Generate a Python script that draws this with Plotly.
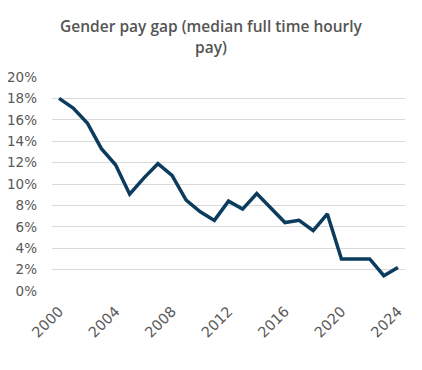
import plotly.graph_objects as go

years = list(range(2000, 2025))
gap_pct = [18.0, 17.1, 15.7, 13.3, 11.8, 9.05, 10.55, 11.9, 10.8, 8.5, 7.4, 6.6,
           8.4, 7.65, 9.1, 7.7, 6.4, 6.6, 5.65, 7.2, 3.0, 3.0, 3.0, 1.43, 2.2]
y_ticks = list(range(0, 21, 2))
y_tick_labels = [f"{v}%" for v in y_ticks]
x_ticks = list(range(2000, 2025, 4))
title_text = "Gender pay gap (median full time hourly<br>pay)"

fig = go.Figure()
fig.add_trace(go.Scatter(
    x=years, y=gap_pct, mode="lines",
    line=dict(color="#0b3c5d", width=3.5),
    hoverinfo="skip",
))

y_tick_font = dict(family="DejaVu Sans, Verdana, sans-serif", size=13.5, color="#595959")
x_tick_font = dict(family="DejaVu Sans, Verdana, sans-serif", size=14.5, color="#595959")

fig.update_layout(
    template="none",
    width=422, height=370,
    margin=dict(l=44, r=25, t=69, b=87, autoexpand=False),
    paper_bgcolor="white", plot_bgcolor="white",
    showlegend=False,
    font=dict(family="DejaVu Sans, Verdana, sans-serif", color="#595959", size=13.5),
    title=dict(
        text=title_text, x=203 / 422, xanchor="center", y=0.934, yanchor="top",
        font=dict(family="Open Sans, Arial, sans-serif", size=15.5, color="#555555", weight=600),
    ),
    xaxis=dict(
        range=[1999.5, 2024.5], tickmode="array", tickvals=x_ticks,
        ticktext=[str(v) for v in x_ticks], tickangle=-45,
        showgrid=False, zeroline=False, showline=False, ticks="",
        automargin=False,
        ticklabelstandoff=8,
        tickfont=x_tick_font,
    ),
    yaxis=dict(
        range=[0, 20], tickmode="array", tickvals=y_ticks, ticktext=y_tick_labels,
        showgrid=True, gridcolor="#d9d9d9", gridwidth=1,
        zeroline=False, showline=False, ticks="",
        automargin=False,
        ticklabelstandoff=14,
        tickfont=y_tick_font,
    ),
)

fig.write_html("out.html")
